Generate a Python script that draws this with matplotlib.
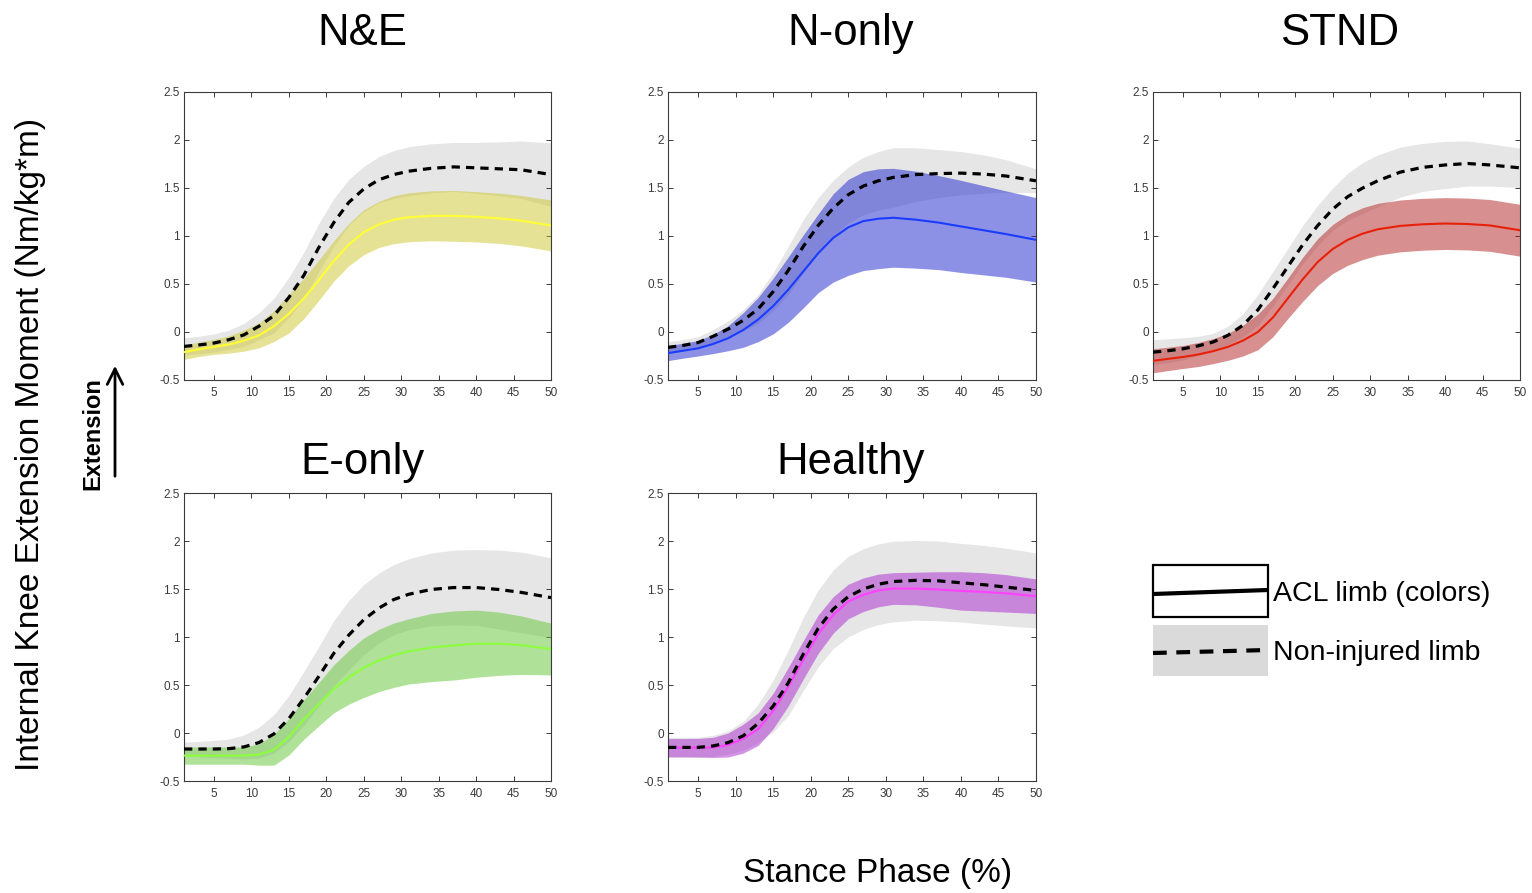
import matplotlib
matplotlib.use('Agg')
import matplotlib.pyplot as plt
from matplotlib.patches import Rectangle
import numpy as np

plt.rcParams['font.family'] = ['Liberation Sans', 'DejaVu Sans']

# stance phase (%) sample points
stance = [1, 3, 5, 7, 9, 11, 13, 15, 17, 19, 21, 23, 25, 27, 29, 31, 34, 37, 40, 43, 46, 50]

# N&E
ne_acl_mean = [-0.21, -0.18, -0.155, -0.13, -0.09, -0.035, 0.06, 0.19, 0.35, 0.54, 0.74, 0.91, 1.04, 1.12, 1.17, 1.195, 1.21, 1.21, 1.20, 1.185, 1.16, 1.11]
ne_acl_sd = [0.075, 0.075, 0.078, 0.09, 0.11, 0.13, 0.16, 0.20, 0.21, 0.21, 0.21, 0.22, 0.235, 0.24, 0.25, 0.255, 0.26, 0.265, 0.262, 0.262, 0.263, 0.265]
ne_ni_mean = [-0.15, -0.135, -0.115, -0.08, -0.03, 0.06, 0.17, 0.36, 0.59, 0.88, 1.14, 1.35, 1.49, 1.585, 1.64, 1.675, 1.705, 1.72, 1.71, 1.70, 1.69, 1.64]
ne_ni_sd = [0.09, 0.09, 0.095, 0.10, 0.12, 0.14, 0.18, 0.21, 0.24, 0.25, 0.25, 0.24, 0.235, 0.24, 0.25, 0.255, 0.255, 0.255, 0.265, 0.28, 0.30, 0.33]

# N-only
no_acl_mean = [-0.22, -0.195, -0.17, -0.125, -0.065, 0.02, 0.13, 0.27, 0.44, 0.63, 0.82, 0.98, 1.09, 1.155, 1.18, 1.19, 1.17, 1.14, 1.10, 1.06, 1.02, 0.96]
no_acl_sd = [0.078, 0.078, 0.08, 0.10, 0.13, 0.18, 0.23, 0.29, 0.34, 0.38, 0.41, 0.46, 0.50, 0.515, 0.52, 0.515, 0.505, 0.49, 0.48, 0.465, 0.45, 0.44]
no_ni_mean = [-0.16, -0.14, -0.11, -0.045, 0.03, 0.12, 0.24, 0.42, 0.64, 0.89, 1.11, 1.29, 1.43, 1.52, 1.575, 1.61, 1.64, 1.65, 1.655, 1.645, 1.625, 1.575]
no_ni_sd = [0.06, 0.06, 0.06, 0.07, 0.085, 0.11, 0.15, 0.20, 0.25, 0.28, 0.29, 0.29, 0.29, 0.30, 0.305, 0.31, 0.28, 0.25, 0.225, 0.20, 0.17, 0.125]

# STND
st_acl_mean = [-0.30, -0.28, -0.26, -0.235, -0.20, -0.155, -0.09, 0.0, 0.15, 0.35, 0.55, 0.73, 0.865, 0.96, 1.025, 1.07, 1.105, 1.122, 1.13, 1.125, 1.11, 1.06]
st_acl_sd = [0.125, 0.122, 0.12, 0.125, 0.13, 0.14, 0.16, 0.185, 0.20, 0.21, 0.23, 0.245, 0.255, 0.265, 0.27, 0.27, 0.27, 0.27, 0.27, 0.27, 0.27, 0.27]
st_ni_mean = [-0.21, -0.195, -0.175, -0.145, -0.105, -0.035, 0.07, 0.23, 0.45, 0.68, 0.91, 1.11, 1.28, 1.41, 1.50, 1.575, 1.665, 1.715, 1.74, 1.755, 1.74, 1.71]
st_ni_sd = [0.13, 0.125, 0.115, 0.10, 0.09, 0.095, 0.12, 0.16, 0.18, 0.19, 0.20, 0.21, 0.22, 0.245, 0.265, 0.27, 0.26, 0.25, 0.245, 0.235, 0.22, 0.205]

# E-only
eo_acl_mean = [-0.235, -0.235, -0.235, -0.235, -0.235, -0.225, -0.175, -0.04, 0.14, 0.30, 0.46, 0.58, 0.68, 0.755, 0.81, 0.85, 0.89, 0.912, 0.93, 0.93, 0.915, 0.875]
eo_acl_sd = [0.09, 0.09, 0.09, 0.09, 0.09, 0.11, 0.16, 0.19, 0.205, 0.225, 0.25, 0.28, 0.31, 0.325, 0.335, 0.34, 0.355, 0.36, 0.35, 0.33, 0.305, 0.27]
eo_ni_mean = [-0.167, -0.167, -0.167, -0.163, -0.145, -0.10, -0.01, 0.15, 0.36, 0.59, 0.83, 1.02, 1.18, 1.30, 1.39, 1.445, 1.495, 1.515, 1.515, 1.495, 1.465, 1.41]
eo_ni_sd = [0.07, 0.08, 0.09, 0.10, 0.125, 0.16, 0.20, 0.24, 0.28, 0.31, 0.34, 0.36, 0.365, 0.365, 0.365, 0.37, 0.38, 0.39, 0.395, 0.41, 0.42, 0.415]

# Healthy
he_acl_mean = [-0.153, -0.153, -0.153, -0.15, -0.125, -0.06, 0.04, 0.23, 0.48, 0.76, 1.03, 1.23, 1.37, 1.44, 1.485, 1.505, 1.505, 1.495, 1.48, 1.47, 1.455, 1.425]
he_acl_sd = [0.095, 0.095, 0.097, 0.105, 0.125, 0.15, 0.17, 0.185, 0.20, 0.20, 0.20, 0.19, 0.18, 0.175, 0.17, 0.165, 0.17, 0.185, 0.20, 0.20, 0.195, 0.18]
he_ni_mean = [-0.15, -0.15, -0.15, -0.135, -0.10, -0.03, 0.10, 0.28, 0.52, 0.82, 1.09, 1.29, 1.42, 1.50, 1.55, 1.578, 1.59, 1.585, 1.565, 1.545, 1.52, 1.485]
he_ni_sd = [0.105, 0.105, 0.105, 0.11, 0.12, 0.15, 0.20, 0.27, 0.34, 0.38, 0.40, 0.41, 0.42, 0.42, 0.42, 0.42, 0.415, 0.415, 0.41, 0.41, 0.405, 0.39]

titles = ['N&E', 'N-only', 'STND', 'E-only', 'Healthy']
y_ticks = [-0.5, 0, 0.5, 1, 1.5, 2, 2.5]
y_tick_labels = ['-0.5', '0', '0.5', '1', '1.5', '2', '2.5']
x_ticks = [5, 10, 15, 20, 25, 30, 35, 40, 45, 50]

W, H = 1532, 893
fig = plt.figure(figsize=(W / 100, H / 100), dpi=100, facecolor='white')


def px_axes(left, top, right, bottom):
    return fig.add_axes([left / W, 1 - bottom / H, (right - left) / W, (bottom - top) / H])


def draw_panel(ax, acl_mean, acl_sd, ni_mean, ni_sd, band_col, line_col):
    x = np.array(stance)
    am, asd = np.array(acl_mean), np.array(acl_sd)
    nm, nsd = np.array(ni_mean), np.array(ni_sd)
    ax.fill_between(x, nm - nsd, nm + nsd, color='#e6e6e6', lw=0, zorder=1)
    ax.fill_between(x, am - asd, am + asd, color=band_col, alpha=0.5, lw=0, zorder=2)
    ax.plot(x, am, color=line_col, lw=1.5, zorder=3)
    ax.plot(x, nm, color='black', lw=2.3, ls=(0, (2.6, 1.9)), zorder=4)
    ax.set_xlim(1, 50)
    ax.set_ylim(-0.5, 2.5)
    ax.set_xticks(x_ticks)
    ax.set_xticklabels([str(t) for t in x_ticks])
    ax.set_yticks(y_ticks)
    ax.set_yticklabels(y_tick_labels)
    ax.tick_params(direction='in', top=True, right=True, length=3.5, width=0.7,
                   labelsize=8.5, labelcolor='#3a3a3a', color='#3a3a3a')
    ax.tick_params(axis='x', pad=5)
    ax.tick_params(axis='y', pad=3)
    for s in ax.spines.values():
        s.set_color('#3a3a3a')
        s.set_linewidth(0.8)


ax1 = px_axes(184, 92, 551, 380)
ax2 = px_axes(668, 92, 1036, 380)
ax3 = px_axes(1153, 92, 1520, 380)
ax4 = px_axes(184, 493, 551, 781)
ax5 = px_axes(668, 493, 1036, 781)

draw_panel(ax1, ne_acl_mean, ne_acl_sd, ne_ni_mean, ne_ni_sd, '#cdc72d', '#ffff33')
draw_panel(ax2, no_acl_mean, no_acl_sd, no_ni_mean, no_ni_sd, '#1d25cd', '#1a3cff')
draw_panel(ax3, st_acl_mean, st_acl_sd, st_ni_mean, st_ni_sd, '#b32121', '#e8200a')
draw_panel(ax4, eo_acl_mean, eo_acl_sd, eo_ni_mean, eo_ni_sd, '#61c733', '#8cff3c')
draw_panel(ax5, he_acl_mean, he_acl_sd, he_ni_mean, he_ni_sd, '#aa28ce', '#ff40ff')

# panel titles
title_pos = [(362, 45), (851, 45), (1340, 45), (362, 474), (851, 474)]
for t, (tx, ty) in zip(titles, title_pos):
    fig.text(tx / W, 1 - ty / H, t, ha='center', va='baseline', fontsize=31.5)

# overlay in pixel coordinates for labels, arrow and legend
ov = fig.add_axes([0, 0, 1, 1], zorder=10)
ov.set_xlim(0, W)
ov.set_ylim(H, 0)
ov.axis('off')

ov.text(31, 444, 'Internal Knee Extension Moment (Nm/kg*m)', rotation=90,
        ha='center', va='center', fontsize=24)
ov.text(878, 882, 'Stance Phase (%)', ha='center', va='baseline', fontsize=24)
ov.text(93, 434, 'Extension', rotation=90, ha='center', va='center',
        fontsize=17, fontweight='bold')
ov.annotate('', xy=(115, 363), xytext=(115, 479),
            arrowprops=dict(arrowstyle='->', lw=2, color='black', mutation_scale=28))

# legend
ov.add_patch(Rectangle((1153, 565), 115, 52, facecolor='white', edgecolor='black', lw=1.6))
ov.plot([1153, 1268], [594, 590], color='black', lw=3, solid_capstyle='butt')
ov.add_patch(Rectangle((1153, 625), 115, 51, facecolor='#dadada', edgecolor='none'))
ov.plot([1153, 1268], [653, 650], color='black', lw=3, ls=(0, (3.3, 2.3)))
ov.text(1273, 594, 'ACL limb (colors)', ha='left', va='center', fontsize=20.5)
ov.text(1273, 653, 'Non-injured limb', ha='left', va='center', fontsize=20.5)

fig.savefig('out.png', dpi=100, facecolor='white')
